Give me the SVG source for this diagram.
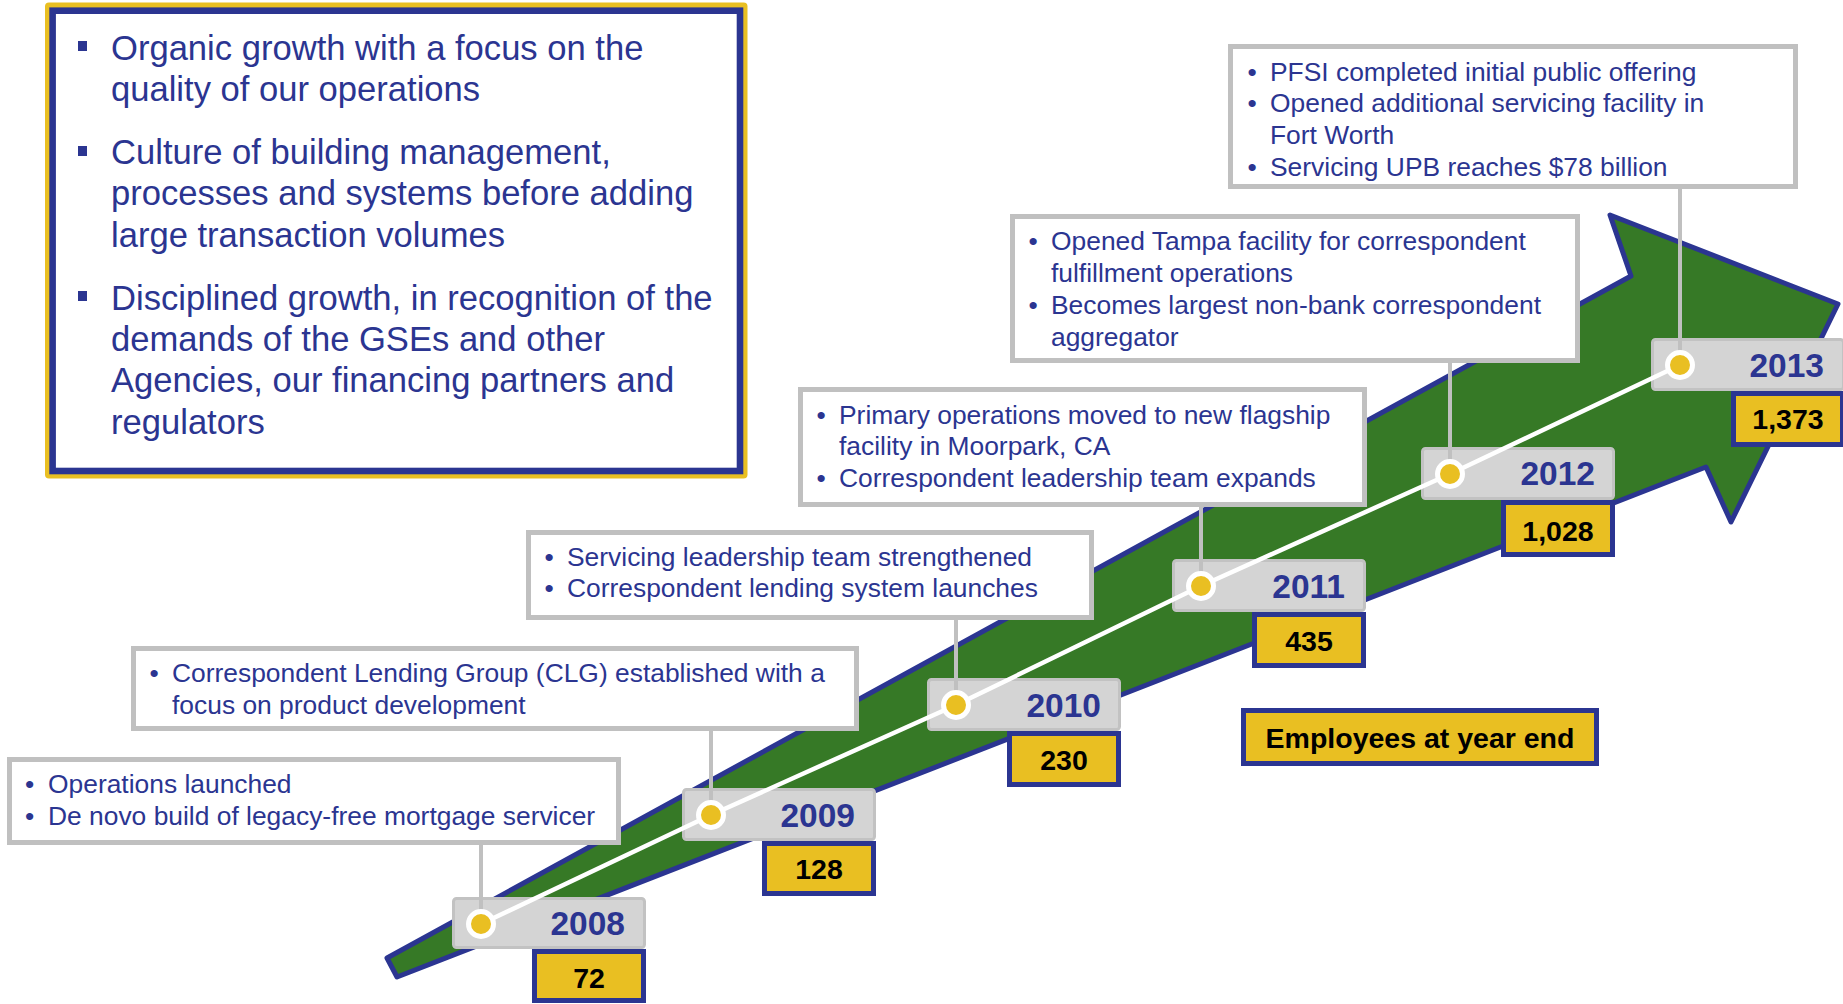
<svg xmlns="http://www.w3.org/2000/svg" width="1843" height="1004" viewBox="0 0 1843 1004">
  <style>
    .sans { font-family: "Liberation Sans", Arial, sans-serif; }
    .lead { font-size: 34.6px; fill: #2b3591; }
    .note { font-size: 26.4px; fill: #2b3591; }
    .callout { fill: #ffffff; stroke: #c0c0c0; stroke-width: 5; }
    .stem { stroke: #c0c0c0; stroke-width: 4; fill: none; }
    .yearbox { fill: #d4d4d4; stroke: #c2c2c2; stroke-width: 3; }
    .year { font-size: 33.5px; font-weight: bold; fill: #2b3591; text-anchor: end; }
    .empbox { fill: #e9bf22; stroke: #2b3591; stroke-width: 5; }
    .emp { font-size: 28.5px; font-weight: bold; fill: #000000; text-anchor: middle; }
    .dot { fill: #e9bf22; stroke: #ffffff; stroke-width: 5; }
  </style>

  <!-- growth arrow -->
  <polygon id="arrow" points="387,958 1631,276 1610,215 1838,304 1731,522 1706,467 397,977"
           fill="#367926" stroke="#2b3591" stroke-width="5" stroke-linejoin="round"/>

  <!-- principles panel -->
  <g id="principles" class="sans">
    <rect x="45" y="2.5" width="702.5" height="476" rx="4" fill="#e9bf22"/>
    <rect x="52.6" y="10.7" width="687.4" height="460.3" fill="#ffffff" stroke="#2b3591" stroke-width="6.6"/>
    <g fill="#2b3591">
      <rect x="78" y="41" width="9" height="10"/>
      <rect x="78" y="146" width="9" height="10"/>
      <rect x="78" y="291" width="9" height="10"/>
    </g>
    <text class="lead" x="111">
      <tspan x="111" y="59.5">Organic growth with a focus on the</tspan>
      <tspan x="111" y="100.5">quality of our operations</tspan>
      <tspan x="111" y="164">Culture of building management,</tspan>
      <tspan x="111" y="205">processes and systems before adding</tspan>
      <tspan x="111" y="246.5">large transaction volumes</tspan>
      <tspan x="111" y="310">Disciplined growth, in recognition of the</tspan>
      <tspan x="111" y="351">demands of the GSEs and other</tspan>
      <tspan x="111" y="392">Agencies, our financing partners and</tspan>
      <tspan x="111" y="433.5">regulators</tspan>
    </text>
  </g>

  <!-- milestone callouts -->
  <g id="callout-2008" class="sans">
    <rect class="callout" x="9.5" y="759.5" width="609" height="83"/>
    <text class="note"><tspan x="25" y="793">•</tspan><tspan x="25" y="824.5">•</tspan></text>
    <text class="note"><tspan x="48" y="793">Operations launched</tspan><tspan x="48" y="824.5">De novo build of legacy-free mortgage servicer</tspan></text>
  </g>
  <g id="callout-2009" class="sans">
    <rect class="callout" x="133.5" y="648.5" width="723" height="80"/>
    <text class="note"><tspan x="149.5" y="682">•</tspan></text>
    <text class="note"><tspan x="172" y="682">Correspondent Lending Group (CLG) established with a</tspan><tspan x="172" y="713.5">focus on product development</tspan></text>
  </g>
  <g id="callout-2010" class="sans">
    <rect class="callout" x="528.5" y="532.5" width="563" height="85"/>
    <text class="note"><tspan x="544.5" y="565.5">•</tspan><tspan x="544.5" y="597">•</tspan></text>
    <text class="note"><tspan x="567" y="565.5">Servicing leadership team strengthened</tspan><tspan x="567" y="597">Correspondent lending system launches</tspan></text>
  </g>
  <g id="callout-2011" class="sans">
    <rect class="callout" x="800.5" y="389.5" width="564" height="115"/>
    <text class="note"><tspan x="816.5" y="423.5">•</tspan><tspan x="816.5" y="487">•</tspan></text>
    <text class="note"><tspan x="839" y="423.5">Primary operations moved to new flagship</tspan><tspan x="839" y="455">facility in Moorpark, CA</tspan><tspan x="839" y="487">Correspondent leadership team expands</tspan></text>
  </g>
  <g id="callout-2012" class="sans">
    <rect class="callout" x="1012.5" y="216.5" width="565" height="144"/>
    <text class="note"><tspan x="1028.5" y="250">•</tspan><tspan x="1028.5" y="314">•</tspan></text>
    <text class="note"><tspan x="1051" y="250">Opened Tampa facility for correspondent</tspan><tspan x="1051" y="281.5">fulfillment operations</tspan><tspan x="1051" y="314">Becomes largest non-bank correspondent</tspan><tspan x="1051" y="345.5">aggregator</tspan></text>
  </g>
  <g id="callout-2013" class="sans">
    <rect class="callout" x="1230.5" y="46.5" width="565" height="140"/>
    <text class="note"><tspan x="1247.5" y="81">•</tspan><tspan x="1247.5" y="112">•</tspan><tspan x="1247.5" y="176">•</tspan></text>
    <text class="note"><tspan x="1270" y="81">PFSI completed initial public offering</tspan><tspan x="1270" y="112">Opened additional servicing facility in</tspan><tspan x="1270" y="144">Fort Worth</tspan><tspan x="1270" y="176">Servicing UPB reaches $78 billion</tspan></text>
  </g>

  <!-- year markers and headcount boxes -->
  <g id="year-2008" class="sans">
    <rect class="yearbox" x="453.5" y="898.5" width="191" height="49" rx="3"/>
    <text class="year" x="625" y="935">2008</text>
    <rect class="empbox" x="534.5" y="951.5" width="109" height="49"/>
    <text class="emp" x="589" y="987.5">72</text>
  </g>
  <g id="year-2009" class="sans">
    <rect class="yearbox" x="683.5" y="789.5" width="191" height="50" rx="3"/>
    <text class="year" x="855" y="826.5">2009</text>
    <rect class="empbox" x="764.5" y="843.5" width="109" height="50"/>
    <text class="emp" x="819" y="879">128</text>
  </g>
  <g id="year-2010" class="sans">
    <rect class="yearbox" x="928.5" y="679.5" width="191" height="50" rx="3"/>
    <text class="year" x="1101" y="716.5">2010</text>
    <rect class="empbox" x="1009.5" y="733.5" width="109" height="51"/>
    <text class="emp" x="1064" y="769.5">230</text>
  </g>
  <g id="year-2011" class="sans">
    <rect class="yearbox" x="1173.5" y="560.5" width="191" height="50" rx="3"/>
    <text class="year" x="1345" y="598">2011</text>
    <rect class="empbox" x="1254.5" y="614.5" width="109" height="51"/>
    <text class="emp" x="1309" y="651">435</text>
  </g>
  <g id="year-2012" class="sans">
    <rect class="yearbox" x="1422.5" y="448.5" width="191" height="50" rx="3"/>
    <text class="year" x="1595" y="485">2012</text>
    <rect class="empbox" x="1503.5" y="502.5" width="109" height="52"/>
    <text class="emp" x="1558" y="541">1,028</text>
  </g>
  <g id="year-2013" class="sans">
    <rect class="yearbox" x="1652.5" y="339.5" width="191" height="50" rx="3"/>
    <text class="year" x="1824" y="377">2013</text>
    <rect class="empbox" x="1733.5" y="393.5" width="109" height="51"/>
    <text class="emp" x="1788" y="429">1,373</text>
  </g>

  <!-- connectors: callout stems and the timeline through the year dots -->
  <g id="connectors">
    <line class="stem" x1="481" y1="845" x2="481" y2="924"/>
    <line class="stem" x1="711" y1="731" x2="711" y2="815"/>
    <line class="stem" x1="956" y1="620" x2="956" y2="705"/>
    <line class="stem" x1="1201" y1="507" x2="1201" y2="586"/>
    <line class="stem" x1="1450" y1="363" x2="1450" y2="474"/>
    <line class="stem" x1="1680" y1="189" x2="1680" y2="365"/>
    <polyline points="481,924 711,815 956,705 1201,586 1450,474 1680,365" fill="none" stroke="#ffffff" stroke-width="4.5"/>
    <circle class="dot" cx="481" cy="924" r="12.5"/>
    <circle class="dot" cx="711" cy="815" r="12.5"/>
    <circle class="dot" cx="956" cy="705" r="12.5"/>
    <circle class="dot" cx="1201" cy="586" r="12.5"/>
    <circle class="dot" cx="1450" cy="474" r="12.5"/>
    <circle class="dot" cx="1680" cy="365" r="12.5"/>
  </g>

  <!-- legend -->
  <g id="legend" class="sans">
    <rect class="empbox" x="1243.5" y="710.5" width="353" height="53"/>
    <text class="emp" x="1420" y="748">Employees at year end</text>
  </g>
</svg>
